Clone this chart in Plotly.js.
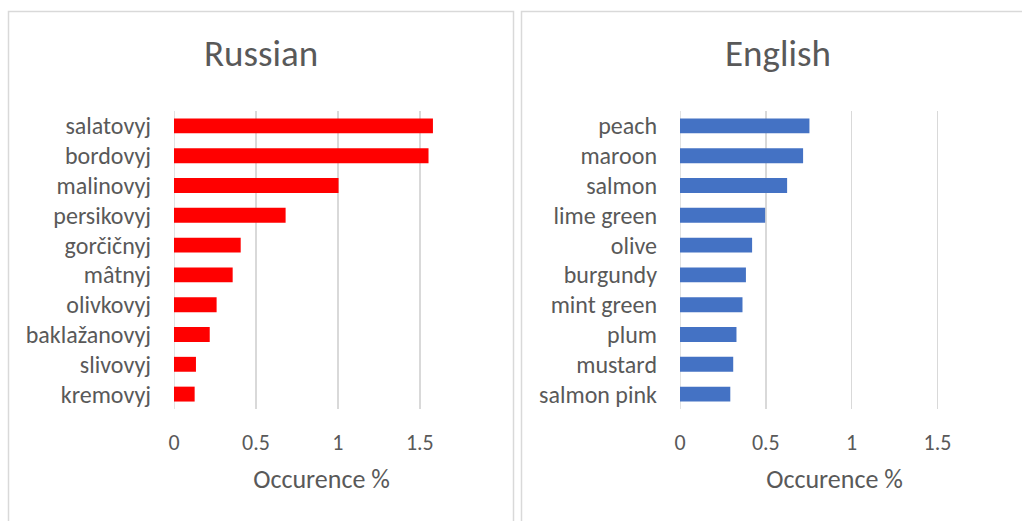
<!DOCTYPE html>
<html>
<head>
<meta charset="utf-8">
<script src="https://cdn.plot.ly/plotly-3.0.1.min.js"></script>
<style>html,body{margin:0;padding:0;background:#fff;}#chart{width:1022px;height:521px;}</style>
</head>
<body>
<div id="chart"></div>
<script>
const russianTerms = ["salatovyj","bordovyj","malinovyj","persikovyj","gorčičnyj","mâtnyj","olivkovyj","baklažanovyj","slivovyj","kremovyj"];
const russianValues = [1.58,1.553,1.004,0.681,0.407,0.358,0.26,0.218,0.134,0.126];
const englishTerms = ["peach","maroon","salmon","lime green","olive","burgundy","mint green","plum","mustard","salmon pink"];
const englishValues = [0.754,0.717,0.624,0.496,0.42,0.384,0.364,0.329,0.31,0.293];
const xTickVals = [0,0.5,1,1.5];
const xTickText = ["0","0.5","1","1.5"];
const panelTitles = ["Russian","English"];
const axisTitle = "Occurence %";

const W = 1022, H = 521;
const FONT = "Calibri, Carlito, Lato, 'Open Sans', sans-serif";
const GREY = "#595959";
const GRID = "#d9d9d9";
const px = v => v / W;
const py = v => 1 - v / H;

const traces = [
  {type:"bar", orientation:"h", x:russianValues, y:russianTerms, xaxis:"x", yaxis:"y",
   marker:{color:"#ff0000"}, hoverinfo:"x+y"},
  {type:"bar", orientation:"h", x:englishValues, y:englishTerms, xaxis:"x2", yaxis:"y2",
   marker:{color:"#4472c4"}, hoverinfo:"x+y"}
];

function xax(domain, anchor){
  return {domain:domain, anchor:anchor, range:[0,1.8], tickvals:xTickVals, ticktext:xTickText,
    showgrid:true, gridcolor:GRID, gridwidth:1.5, zeroline:false, showline:false,
    ticks:"", ticklabelstandoff:18, tickfont:{family:FONT,size:22,color:GREY},
    title:{text:axisTitle, font:{family:FONT,size:26,color:GREY}, standoff:14}, fixedrange:true};
}
function yax(domain, anchor, cats){
  return {domain:domain, anchor:anchor, type:"category", categoryorder:"array", categoryarray:cats,
    autorange:"reversed", showgrid:false, zeroline:false, showline:false, ticks:"",
    ticklabelstandoff:22, tickfont:{family:FONT,size:24,color:GREY}, fixedrange:true};
}

const yDom = [py(409), py(111)];
const layout = {
  width:W, height:H, margin:{l:0,r:0,t:0,b:0}, paper_bgcolor:"#fff", plot_bgcolor:"rgba(0,0,0,0)",
  showlegend:false, bargap:0.5,
  xaxis: xax([px(174), px(469)], "y"),
  yaxis: yax(yDom, "x", russianTerms),
  xaxis2: xax([px(680), px(989)], "y2"),
  yaxis2: yax(yDom, "x2", englishTerms),
  shapes:[
    {type:"rect", xref:"paper", yref:"paper", x0:px(8.5), x1:px(513.5), y0:py(530), y1:py(11.5), line:{color:GRID,width:1.5}, layer:"below"},
    {type:"rect", xref:"paper", yref:"paper", x0:px(521.5), x1:px(1035), y0:py(530), y1:py(11.5), line:{color:GRID,width:1.5}, layer:"below"},
    {type:"line", xref:"x", yref:"paper", x0:0, x1:0, y0:yDom[0], y1:yDom[1], line:{color:GRID,width:1.5}, layer:"below"},
    {type:"line", xref:"x2", yref:"paper", x0:0, x1:0, y0:yDom[0], y1:yDom[1], line:{color:GRID,width:1.5}, layer:"below"}
  ],
  annotations:[
    {text:panelTitles[0], xref:"paper", yref:"paper", x:px(261), y:py(54), xanchor:"center", yanchor:"middle", showarrow:false, font:{family:FONT,size:37,color:GREY}},
    {text:panelTitles[1], xref:"paper", yref:"paper", x:px(778), y:py(54), xanchor:"center", yanchor:"middle", showarrow:false, font:{family:FONT,size:37,color:GREY}}
  ]
};
Plotly.newPlot("chart", traces, layout, {displayModeBar:false, staticPlot:true});
</script>
</body>
</html>
